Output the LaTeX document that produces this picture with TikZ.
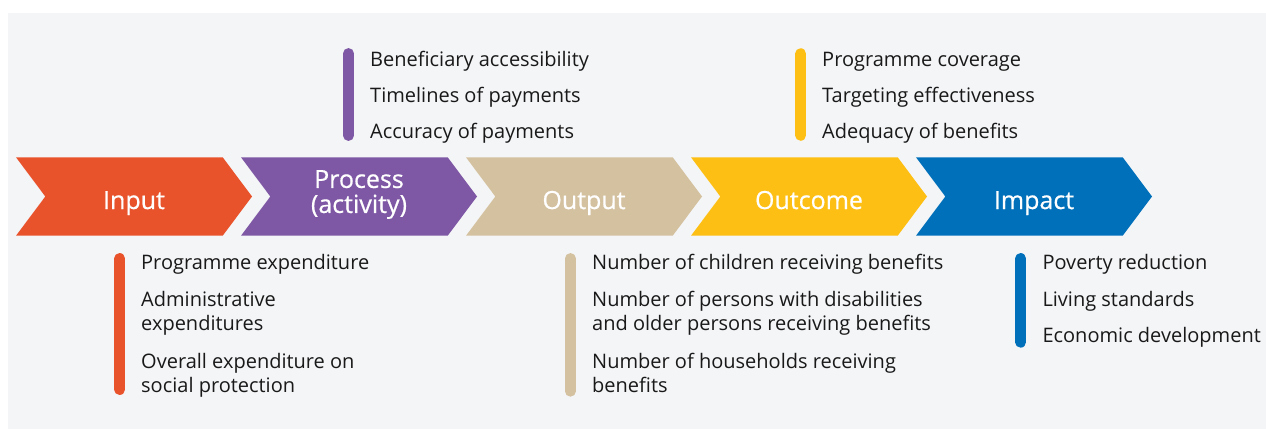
\documentclass[tikz,border=0pt]{standalone}
\usepackage{fontspec}
\setmainfont{Open Sans}
\newfontfamily\labelfont[FakeBold=0.6]{Open Sans}
\usepackage{xcolor}
\usepackage{tikz}
\definecolor{backdrop}{rgb}{0.957, 0.961, 0.969}
\definecolor{inputcol}{rgb}{0.914, 0.325, 0.173}
\definecolor{processcol}{rgb}{0.494, 0.341, 0.647}
\definecolor{outputcol}{rgb}{0.831, 0.757, 0.624}
\definecolor{outcomecol}{rgb}{0.992, 0.749, 0.075}
\definecolor{impactcol}{rgb}{0.0, 0.439, 0.729}
\definecolor{bodytext}{rgb}{0.1, 0.1, 0.1}
\tikzset{
	stagelabel/.style={text=white, inner sep=0pt, anchor=base, align=center, font=\labelfont\fontsize{25}{25}\selectfont},
	itemtext/.style={text=bodytext, inner sep=0pt, anchor=base west, font=\fontsize{20}{24.5}\selectfont},
	itembar/.style={line width=10.7pt, line cap=round},
}

\begin{document}
\begin{tikzpicture}[x=1pt, y=-1pt]
\useasboundingbox (0,0) rectangle (1266,429);
% backdrop
\fill[backdrop] (8,13) rectangle (1266,429);
%% chevrons:
% input
\fill[inputcol] (16,157.3) -- (222.7,157.3) -- (252,196.5) -- (222.7,235.7) -- (16,235.7) -- (45.3,196.5) -- cycle;
\node[stagelabel] (input) at (134,209) {Input};
% process
\fill[processcol] (241,157.3) -- (447.7,157.3) -- (477,196.5) -- (447.7,235.7) -- (241,235.7) -- (270.3,196.5) -- cycle;
\node[stagelabel, anchor=center] (process) at (359,194.5) {Process\\(activity)};
% output
\fill[outputcol] (466,157.3) -- (672.7,157.3) -- (702,196.5) -- (672.7,235.7) -- (466,235.7) -- (495.3,196.5) -- cycle;
\node[stagelabel] (output) at (584,209) {Output};
% outcome
\fill[outcomecol] (691,157.3) -- (897.7,157.3) -- (927,196.5) -- (897.7,235.7) -- (691,235.7) -- (720.3,196.5) -- cycle;
\node[stagelabel] (outcome) at (809,209) {Outcome};
% impact
\fill[impactcol] (916,157.3) -- (1122.7,157.3) -- (1152,196.5) -- (1122.7,235.7) -- (916,235.7) -- (945.3,196.5) -- cycle;
\node[stagelabel] (impact) at (1034,209) {Impact};

%% indicators above:
% process
\draw[itembar, processcol] (348.5,53.4) -- (348.5,135.6);
\node[itemtext] (proc1) at (370,66.7) {Beneficiary accessibility};
\node[itemtext] (proc2) at (370,102.7) {Timelines of payments};
\node[itemtext] (proc3) at (370,138.5) {Accuracy of payments};
% outcome
\draw[itembar, outcomecol] (800.7,53.6) -- (800.7,135.4);
\node[itemtext] (outc1) at (822,66.7) {Programme coverage};
\node[itemtext] (outc2) at (822,102.7) {Targeting effectiveness};
\node[itemtext] (outc3) at (822,138.5) {Adequacy of benefits};

%% indicators below:
% input
\draw[itembar, inputcol] (119.7,258.4) -- (119.7,389.6);
\node[itemtext] (inp1) at (141,269) {Programme expenditure};
\node[itemtext] (inp2) at (141,306.3) {Administrative};
\node[itemtext] (inp2b) at (141,330.7) {expenditures};
\node[itemtext] (inp3) at (141,368) {Overall expenditure on};
\node[itemtext] (inp3b) at (141,392.3) {social protection};
% output
\draw[itembar, outputcol] (570.3,258.4) -- (570.3,391.3);
\node[itemtext] (outp1) at (592,269) {Number of children receiving benefits};
\node[itemtext] (outp2) at (592,306.3) {Number of persons with disabilities};
\node[itemtext] (outp2b) at (592,330.7) {and older persons receiving benefits};
\node[itemtext] (outp3) at (592,368) {Number of households receiving};
\node[itemtext] (outp3b) at (592,392.3) {benefits};
% impact
\draw[itembar, impactcol] (1020.7,258.4) -- (1020.7,342.3);
\node[itemtext] (imp1) at (1042.3,269) {Poverty reduction};
\node[itemtext] (imp2) at (1042.3,306) {Living standards};
\node[itemtext] (imp3) at (1042.3,342) {Economic development};
\end{tikzpicture}
\end{document}
